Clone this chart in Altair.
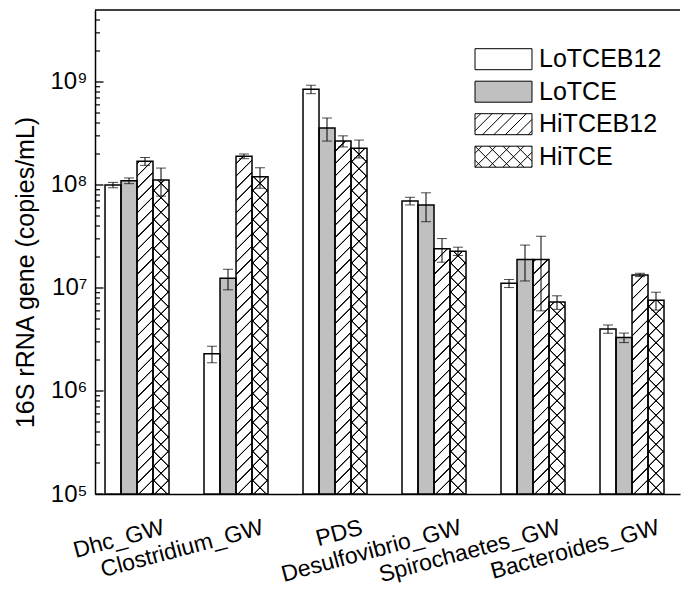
import altair as alt
import pandas as pd

# ---------------- data ----------------
categories = ["Dhc_GW", "Clostridium_GW", "PDS", "Desulfovibrio_GW",
              "Spirochaetes_GW", "Bacteroides_GW"]
series = ["LoTCEB12", "LoTCE", "HiTCEB12", "HiTCE"]

lotceb12 = [1.0e8, 2.3e6, 8.5e8, 7.0e7, 1.11e7, 4.0e6]
lotceb12_err = [0.06e8, 0.42e6, 0.8e8, 0.6e7, 0.1e7, 0.37e6]
lotce = [1.1e8, 1.24e7, 3.57e8, 6.4e7, 1.89e7, 3.3e6]
lotce_err = [0.07e8, 0.28e7, 0.9e8, 2.0e7, 0.72e7, 0.35e6]
hitceb12 = [1.7e8, 1.9e8, 2.67e8, 2.4e7, 1.89e7, 1.34e7]
hitceb12_err = [0.15e8, 0.1e8, 0.33e8, 0.62e7, 1.29e7, 0.05e7]
hitce = [1.12e8, 1.2e8, 2.28e8, 2.28e7, 7.3e6, 7.6e6]
hitce_err = [0.34e8, 0.27e8, 0.45e8, 0.21e7, 1.1e6, 1.5e6]

major_ticks = [1e5, 1e6, 1e7, 1e8, 1e9]
minor_ticks = [m * 10 ** k for k in range(5, 9) for m in range(2, 10)] + [2e9, 3e9, 4e9]
y_min, y_max = 1e5, 5e9
y_title = "16S rRNA gene (copies/mL)"

vals = [lotceb12, lotce, hitceb12, hitce]
errs = [lotceb12_err, lotce_err, hitceb12_err, hitce_err]
rows = []
for s, v, e in zip(series, vals, errs):
    for c, vv, ee in zip(categories, v, e):
        rows.append({"cat": c, "series": s, "value": vv, "lo": vv - ee, "hi": vv + ee})
df = pd.DataFrame(rows)
cat_df = pd.DataFrame({"cat": categories})

# ---------------- layout / style ----------------
W, H = 585, 484
FONT = "Liberation Sans"
GRAY = "#c0c0c0"
n_cat = len(categories)
p_in, p_out = 0.3535, 0.1313
step = W / (n_cat - p_in + 2 * p_out)
bar_w = step * (1 - p_in) / len(series)


def stripes(direction, period, w, h, bg, fg="#000000"):
    total = w + h
    a = w * (w + h) / (w * w + h * h)
    b = h * (w + h) / (w * w + h * h)
    if direction == "/":
        x1, y1, x2, y2 = 0, 0, a, b
    else:
        x1, y1, x2, y2 = 1, 0, 1 - a, b
    stops = [{"offset": 0, "color": bg}]
    c = period / 2
    while c < total:
        for off, col in [(c - 1.1, bg), (c - 0.45, fg), (c + 0.45, fg), (c + 1.1, bg)]:
            o = min(max(off / total, 0), 1)
            stops.append({"offset": round(o, 5), "color": col})
        c += period
    stops.append({"offset": 1, "color": bg})
    return {"gradient": "linear", "x1": x1, "y1": y1, "x2": x2, "y2": y2, "stops": stops}


grad_b12 = stripes("/", 12.3, bar_w, H, "#ffffff")
grad_x1 = stripes("/", 14.5, bar_w, H, "#ffffff")
grad_x2 = stripes("\\", 14.5, bar_w, H, "rgba(0,0,0,0)")

# legend swatch paths (symbol units: 1 unit = sqrt(size)/2 px)
SYM_SIZE = 441
unit = SYM_SIZE ** 0.5 / 2
hw, hh = 28.5 / unit, 10.5 / unit


def swatch(direction=None, period_px=12.0, both=False):
    p = f"M{-hw:.3f},{-hh:.3f}L{hw:.3f},{-hh:.3f}L{hw:.3f},{hh:.3f}L{-hw:.3f},{hh:.3f}Z"
    dirs = []
    if direction:
        dirs.append(direction)
    if both:
        dirs = ["/", "\\"]
    pu = period_px / unit
    for d in dirs:
        c = -(hw + hh) + pu / 2
        while c < hw + hh:
            u0, u1 = max(-hw, c - hh), min(hw, c + hh)
            if u1 - u0 > 1e-3:
                if d == "/":
                    v0, v1 = c - u0, c - u1
                else:
                    v0, v1 = u0 - c, u1 - c
                p += f"M{u0:.3f},{v0:.3f}L{u1:.3f},{v1:.3f}"
            c += pu
    return p


legend_paths = [swatch(), swatch(), swatch("/", 11.4), swatch(both=True, period_px=14.0)]
legend_fills = ["white", GRAY, "white", "white"]
legend_strokes = ["black", "black", "black", "black"]

xscale = alt.Scale(domain=categories, paddingInner=p_in, paddingOuter=p_out, align=0.385)
xoff = alt.Scale(domain=series, paddingInner=0, paddingOuter=0)
yscale = alt.Scale(type="log", domain=[y_min, y_max], nice=False)

x_axis = alt.Axis(labels=False, ticks=False, domainWidth=1.5, orient="bottom")
y_axis = alt.Axis(values=major_ticks, ticks=False, grid=False, orient="left",
                  labelExpr="'10' + ['⁰','¹','²','³','⁴','⁵','⁶','⁷','⁸','⁹'][round(log(datum.value)/LN10)]",
                  labelFontSize=24, labelPadding=8, titleFontSize=25,
                  titleFontWeight="normal", titlePadding=12, titleY=262,
                  domainWidth=1.5)


def xf():
    return alt.X("cat:N", scale=xscale, title=None, axis=x_axis)


def yf(field):
    return alt.Y(field, scale=yscale, title=y_title, axis=y_axis)


def yd(v):
    return alt.YDatum(v, scale=yscale, title=y_title, axis=y_axis)


base = alt.Chart(df).encode(
    x=xf(),
    xOffset=alt.XOffset("series:N", scale=xoff),
)

bars = base.mark_bar().encode(
    y=yf("value:Q"),
    y2=alt.datum(y_min),
    fill=alt.condition("datum.series == 'LoTCE'", alt.value(GRAY), alt.value("white")),
)

hatch12 = base.transform_filter("datum.series == 'HiTCEB12'").mark_bar(fill=grad_b12).encode(
    y=yd(y_max), y2=alt.datum(y_min))
cross1 = base.transform_filter("datum.series == 'HiTCE'").mark_bar(fill=grad_x1).encode(
    y=yd(y_max), y2=alt.datum(y_min))
cross2 = base.transform_filter("datum.series == 'HiTCE'").mark_bar(fill=grad_x2).encode(
    y=yd(y_max), y2=alt.datum(y_min))
cover = base.transform_filter("datum.series == 'HiTCEB12' || datum.series == 'HiTCE'").mark_bar(
    fill="white").encode(y=yf("value:Q"), y2=alt.datum(y_max))

outline = base.mark_bar(fillOpacity=0, stroke="black", strokeWidth=1.5).encode(
    y=yf("value:Q"),
    y2=alt.datum(y_min),
)

err_rule = base.mark_rule(color="black", strokeWidth=1).encode(
    y=yf("lo:Q"), y2="hi:Q")
caps = base.transform_fold(["lo", "hi"], as_=["k", "v"]).mark_tick(
    color="black", thickness=1, size=10, orient="horizontal").encode(
    y=yf("v:Q"))

top_line = alt.Chart(pd.DataFrame({"a": [0]})).mark_rule(color="black", strokeWidth=1.5).encode(
    y=yd(y_max))

maj = alt.Chart(pd.DataFrame({"v": major_ticks})).mark_rule(color="black", strokeWidth=1.3).encode(
    y=yf("v:Q"), x=alt.value(0), x2=alt.value(8.5))
mnr = alt.Chart(pd.DataFrame({"v": minor_ticks})).mark_rule(color="black", strokeWidth=1.2).encode(
    y=yf("v:Q"), x=alt.value(0), x2=alt.value(5))

# category labels, tilted (placed at band centres through the x scale)
cat_labels = alt.Chart(cat_df).mark_text(
    angle=alt.ExprRef(expr="345"), align="right", baseline="top", dx=25,
    font=FONT, fontSize=23, color="black"
).encode(x=xf(), y=alt.value(H + 29), text="cat:N")

leg = alt.Legend(title=None, orient="none", legendX=380, legendY=36.7, padding=0,
                 symbolSize=SYM_SIZE, symbolStrokeColor="black", symbolStrokeWidth=1,
                 symbolOffset=16, labelOffset=23, labelFont=FONT, labelFontSize=25,
                 labelColor="black", rowPadding=6.5, labelLimit=0)
legend_layer = alt.Chart(df).transform_filter("false").mark_point(
    filled=True, size=SYM_SIZE, strokeWidth=1, opacity=1).encode(
    fill=alt.Fill("series:N", scale=alt.Scale(domain=series, range=legend_fills), legend=leg),
    shape=alt.Shape("series:N", scale=alt.Scale(domain=series, range=legend_paths), legend=leg),
    stroke=alt.Stroke("series:N", scale=alt.Scale(domain=series, range=legend_strokes), legend=leg),
)

chart = alt.layer(
    bars, hatch12, cross1, cross2, cover, outline, err_rule, caps,
    top_line, maj, mnr, cat_labels, legend_layer,
).properties(
    width=W, height=H, background="white",
    padding={"left": 13, "top": 9, "right": 0, "bottom": 0},
).configure_view(stroke="transparent").configure_axis(
    labelFont=FONT, titleFont=FONT, labelColor="black", titleColor="black",
    domainColor="black",
)

chart.save("out.html", embed_options={"renderer": "svg", "actions": False})
